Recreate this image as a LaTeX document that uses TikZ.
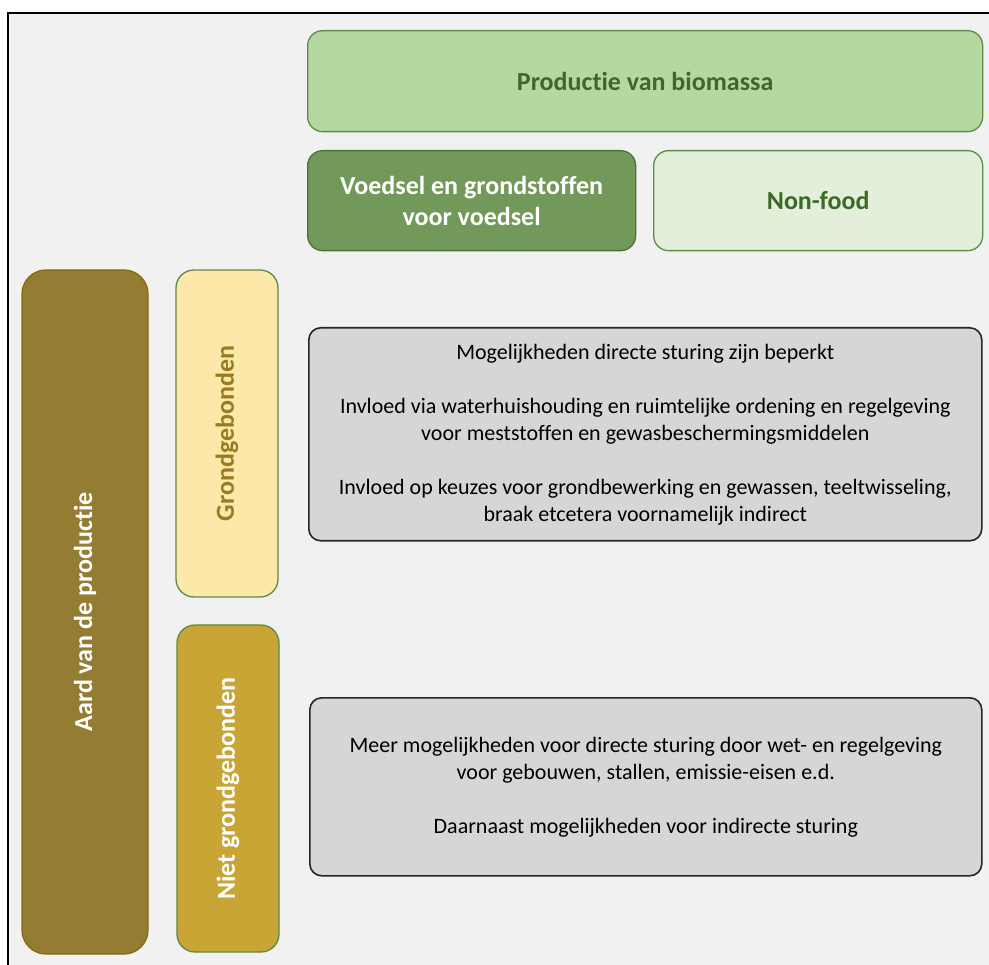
\documentclass[tikz,border=0pt]{standalone}
\usepackage{fontspec}
\setmainfont{Carlito}[Ligatures={NoCommon}]
\definecolor{bgc}{HTML}{F1F1F1}
\definecolor{prodfill}{HTML}{B5D7A0}
\definecolor{prodline}{HTML}{5F8A48}
\definecolor{prodtext}{HTML}{3B6A28}
\definecolor{voedfill}{HTML}{73995A}
\definecolor{voedline}{HTML}{4E7235}
\definecolor{nonfill}{HTML}{E3EFDA}
\definecolor{aardfill}{HTML}{947C32}
\definecolor{aardline}{HTML}{85690F}
\definecolor{grondfill}{HTML}{FCE8A8}
\definecolor{grondtext}{HTML}{977C22}
\definecolor{nietfill}{HTML}{C9A535}
\definecolor{greyfill}{HTML}{D6D6D6}
\tikzset{
  box/.style={draw, line width=1.3pt, rounded corners=15pt, anchor=north west, inner sep=0pt, align=center},
  vbox/.style={draw, line width=1.3pt, rounded corners=18pt, anchor=center, inner sep=0pt, align=center, rotate=90},
  bigtxt/.style={font=\fontsize{26}{31}\selectfont\bfseries},
  smalltxt/.style={font=\fontsize{22}{27}\selectfont},
}
\begin{document}
\begin{tikzpicture}[x=1pt,y=-1pt]
\useasboundingbox (0,0) rectangle (989,965);
\fill[white] (0,0) rectangle (989,965);
\fill[bgc] (8,13) rectangle (989,965);
\draw[line width=2pt] (8,965) -- (8,13) -- (989,13);

\node[box, fill=prodfill, draw=prodline, text=prodtext, bigtxt, minimum width=675pt, minimum height=101pt] (prod) at (307,30) {Productie van biomassa};
\node[box, fill=voedfill, draw=voedline, text=white, bigtxt, minimum width=328pt, minimum height=100pt] (voed) at (307,150) {Voedsel en grondstoffen\\voor voedsel};
\node[box, fill=nonfill, draw=prodline, text=prodtext, bigtxt, minimum width=329pt, minimum height=100pt] (non) at (653,150) {Non-food};

\node[vbox, fill=aardfill, draw=aardline, text=white, bigtxt, rounded corners=24pt, minimum width=684pt, minimum height=126pt] (aard) at (85,612) {Aard van de productie};
\node[vbox, fill=grondfill, draw=prodline, text=grondtext, bigtxt, minimum width=327pt, minimum height=102pt] (grond) at (227,433.5) {Grondgebonden};
\node[vbox, fill=nietfill, draw=prodline, text=white, bigtxt, minimum width=327pt, minimum height=102pt] (niet) at (228,788.5) {Niet grondgebonden};

\node[box, fill=greyfill, draw=black!85, line width=1.6pt, rounded corners=12pt, smalltxt, minimum width=673pt, minimum height=213pt] (g1) at (308,327) {Mogelijkheden directe sturing zijn beperkt\\[27pt]Invloed via waterhuishouding en ruimtelijke ordening en regelgeving\\voor meststoffen en gewasbeschermingsmiddelen\\[27pt]Invloed op keuzes voor grondbewerking en gewassen, teeltwisseling,\\braak etcetera voornamelijk indirect};
\node[box, fill=greyfill, draw=black!85, line width=1.6pt, rounded corners=12pt, smalltxt, minimum width=672pt, minimum height=178pt] (g2) at (309,697) {Meer mogelijkheden voor directe sturing door wet- en regelgeving\\voor gebouwen, stallen, emissie-eisen e.d.\\[27pt]Daarnaast mogelijkheden voor indirecte sturing};
\end{tikzpicture}
\end{document}
